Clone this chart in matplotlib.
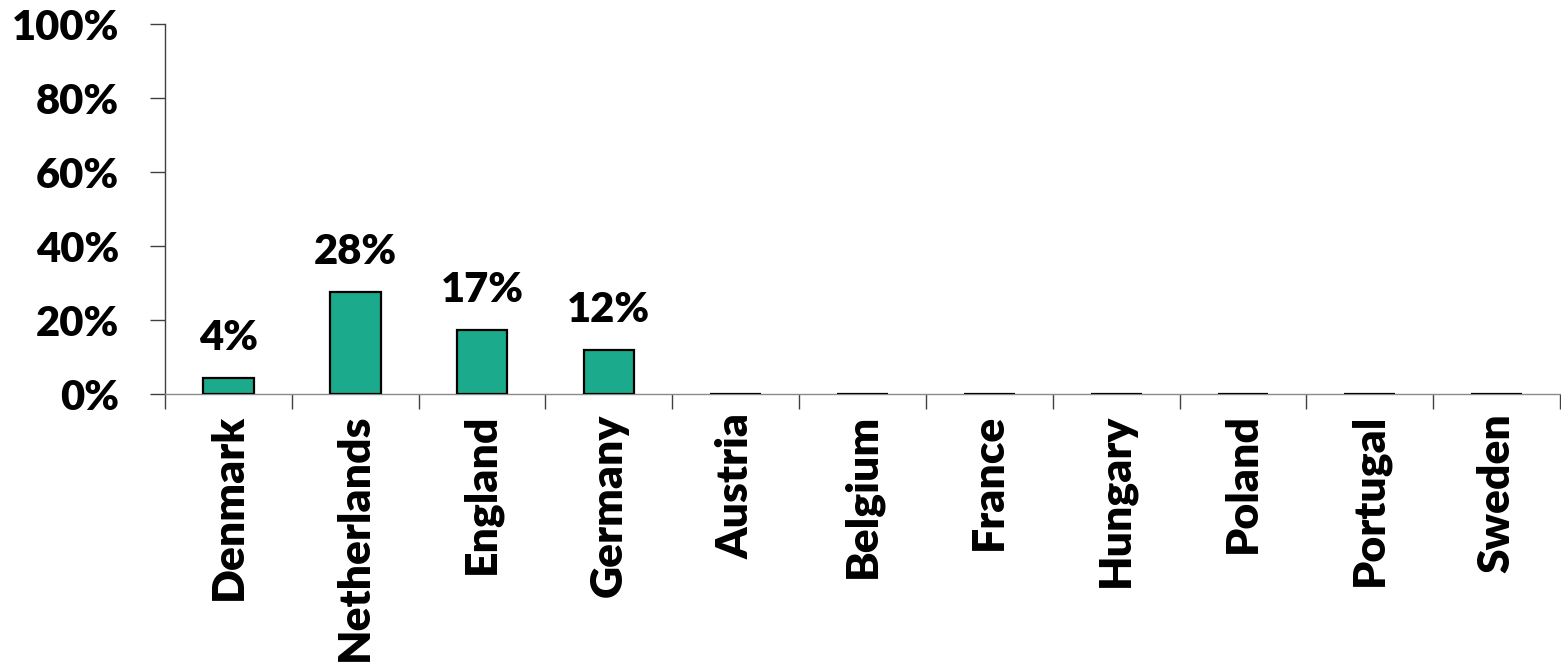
import matplotlib.pyplot as plt
from matplotlib.ticker import FixedLocator, PercentFormatter

countries = ["Denmark", "Netherlands", "England", "Germany", "Austria", "Belgium",
             "France", "Hungary", "Poland", "Portugal", "Sweden"]
shares = [0.043, 0.276, 0.174, 0.12, 0, 0, 0, 0, 0, 0, 0]
labelled = [True, True, True, True, False, False, False, False, False, False, False]

plt.rcParams["font.family"] = ["Lato", "DejaVu Sans"]
WEIGHT = "heavy"
SIZE = 30

fig = plt.figure(figsize=(15.61, 6.70), dpi=100)
ax = fig.add_axes([165 / 1561, 1 - 394 / 670, (1560 - 165) / 1561, (394 - 24) / 670])

x = list(range(len(countries)))
bars = ax.bar(x, shares, width=0.4, color="#1BAA8B", edgecolor="black", linewidth=1.6, zorder=3)

for b, v, show in zip(bars, shares, labelled):
    if show:
        ax.annotate(f"{v:.0%}", (b.get_x() + b.get_width() / 2, v),
                    xytext=(0, 15), textcoords="offset points",
                    ha="center", va="bottom", fontsize=SIZE, fontweight=WEIGHT)

ax.set_xlim(-0.5, len(countries) - 0.5)
ax.set_ylim(0, 1)
ax.yaxis.set_major_locator(FixedLocator([0, 0.2, 0.4, 0.6, 0.8, 1.0]))
ax.yaxis.set_major_formatter(PercentFormatter(1.0, decimals=0))

# category boundaries carry the tick marks, labels sit at the centres
ax.xaxis.set_major_locator(FixedLocator([i - 0.5 for i in range(len(countries) + 1)]))
ax.xaxis.set_minor_locator(FixedLocator(x))
ax.set_xticklabels([], minor=False)
ax.set_xticklabels(countries, minor=True, rotation=90, fontsize=32, fontweight=WEIGHT)
ax.tick_params(axis="x", which="major", direction="out", length=11, width=1, color="#404040")
ax.tick_params(axis="x", which="minor", length=0, pad=14)
ax.tick_params(axis="y", direction="out", length=11, width=1, color="#404040",
               labelsize=SIZE, pad=22)
for lbl in ax.get_yticklabels():
    lbl.set_fontweight(WEIGHT)

ax.spines["top"].set_visible(False)
ax.spines["right"].set_visible(False)
ax.spines["left"].set_color("#404040")
ax.spines["bottom"].set_color("#8a8a8a")
ax.spines["left"].set_linewidth(1)
ax.spines["bottom"].set_linewidth(1)

fig.savefig("out.png", dpi=100)
plt.close(fig)
